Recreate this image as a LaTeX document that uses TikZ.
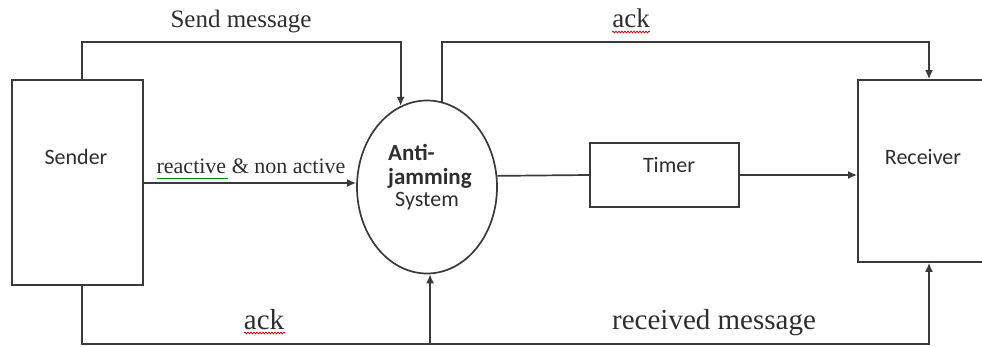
\documentclass[tikz,border=0pt]{standalone}
\usepackage{fontspec}
\setmainfont{Liberation Serif}
\newfontfamily\calfont{Carlito}
\usetikzlibrary{arrows.meta,shapes.geometric,decorations.pathmorphing}
\definecolor{ln}{HTML}{3A3A3A}
\definecolor{tx}{HTML}{2E2E2E}
\begin{document}
\begin{tikzpicture}[x=1pt,y=-1pt,
  line/.style={draw=ln,line width=1.7pt},
  arr/.style={line,-{Latex[length=9pt,width=8pt]}},
  box/.style={draw=ln,line width=1.7pt,inner sep=0pt},
  lab/.style={text=tx,inner sep=0pt,anchor=base},
  inlab/.style={text=tx,inner sep=0pt,anchor=base,font=\calfont\fontsize{22}{24}\selectfont},
  redsq/.style={draw=red!80!black,line width=0.8pt,decorate,decoration={snake,amplitude=0.8pt,segment length=3pt}},
  greensq/.style={draw=green!55!black,line width=0.8pt}]
\useasboundingbox (0,0) rectangle (982,347);
\clip (0,0) rectangle (982,347);
% boxes
\node[box,minimum width=131pt,minimum height=205pt] (sender) at (77.5,182.5) {};
\node[inlab] (sendertxt) at (76,165) {Sender};
\node[box,ellipse,minimum width=140pt,minimum height=173pt] (anti) at (427,187) {};
\node[inlab,anchor=base west,align=left,font=\calfont\bfseries\fontsize{23}{24}\selectfont] (antitxt) at (388,161) {Anti-};
\node[inlab,anchor=base west,font=\calfont\bfseries\fontsize{23}{24}\selectfont] (jamtxt) at (388,185) {jamming};
\node[inlab,anchor=base west] (systxt) at (395,207) {System};
\node[box,minimum width=149pt,minimum height=64pt] (timer) at (664.5,175) {};
\node[inlab] (timertxt) at (669,173) {Timer};
\node[box,minimum width=170pt,minimum height=182pt] (receiver) at (943,171) {};
\node[inlab] (receivertxt) at (923,165) {Receiver};
% routing coordinates
\coordinate (c1) at (82,42);
\coordinate (c2) at (929,42);
\coordinate (b1) at (82,344);
\coordinate (b2) at (929,344);
\coordinate (b3) at (430,344);
\coordinate (r) at (0,183);
% connectors
\draw[arr] (sender.north -| c1) -- (c1) -| (anti.108.6);
\draw[arr] (anti.80.7) |- (c2) -- (receiver.north -| c2);
\draw[arr] (sender.east |- r) -- (anti.west |- r);
\draw[line] (anti.9.8) -- (timer.west);
\draw[arr] (timer.east) -- (timer.east -| receiver.west);
\draw[arr] (sender.south -| b1) -- (b1) -| (receiver.south -| b2);
\draw[arr] (b3) -- (anti.-88);
% labels
\node[lab,font=\fontsize{25}{27}\selectfont] (l1) at (241,28) {Send message};
\node[lab,font=\fontsize{27}{29}\selectfont] (l2) at (631,28) {ack};
\node[lab,font=\fontsize{22}{24}\selectfont] (l3) at (251,174) {reactive \& non active};
\node[lab,font=\fontsize{29}{31}\selectfont] (l4) at (264,329) {ack};
\node[lab,font=\fontsize{29}{31}\selectfont] (l5) at (714,329) {received message};
% spelling marks
\draw[redsq] (612,32) -- (650,32);
\draw[redsq] (244,333) -- (285,333);
\draw[greensq] (157,178.5) -- (228,178.5);
\end{tikzpicture}
\end{document}
